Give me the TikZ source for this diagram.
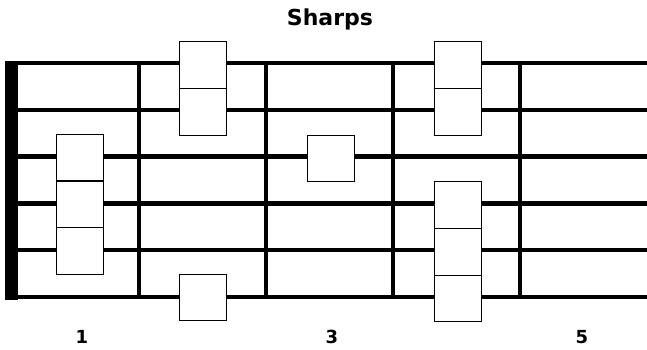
\documentclass[tikz,border=0pt]{standalone}
\usepackage{fontspec}
\setmainfont{DejaVu Sans}
\usetikzlibrary{positioning}
\begin{document}
\begin{tikzpicture}[x=1pt,y=-1pt,node distance=46.8pt]

  \tikzstyle{note}=[rectangle,draw=black,line width=0.8pt,fill=white,minimum width=47pt,minimum height=46.5pt,inner sep=0pt]
  \tikzstyle{wire}=[line width=4.5pt]
  \tikzstyle{fretline}=[line width=4pt]
  \tikzstyle{texto}=[font=\bfseries\fontsize{18}{18}\selectfont]

  \useasboundingbox (0,0) rectangle (647,349);

  \begin{scope}

    % strings and frets
    \foreach \y in {63,109.8,156.6,203.4,250.2,297}
      \draw [wire] (12,\y) -- (647,\y);
    \foreach \x in {139,266,393,520}
      \draw [fretline] (\x,63) -- (\x,297);
    \fill (5,61) rectangle (18,300);

    % notes
    \node [note] (b1) at (80,157.5) {};
    \node [note] (b2) [below of=b1] {};
    \node [note] (b3) [below of=b2] {};

    \node [note] (b4) at (203,65) {};
    \node [note] (b5) [below of=b4] {};
    \node [note] (b6) at (203,297.5) {};

    \node [note] (b7) at (330.5,158.5) {};

    \node [note] (b8) at (458,65) {};
    \node [note] (b9) [below of=b8] {};
    \node [note] (b10) at (458,205) {};
    \node [note] (b11) [below of=b10] {};
    \node [note] (b12) [below of=b11] {};

    \node [font=\bfseries\fontsize{22}{22}\selectfont] (title) at (330,19) {Sharps};

    \node [texto] (n1) at (82,337) {1};
    \node [texto] (n3) at (332,337) {3};
    \node [texto] (n5) at (582,337) {5};

  \end{scope}

\end{tikzpicture}
\end{document}
